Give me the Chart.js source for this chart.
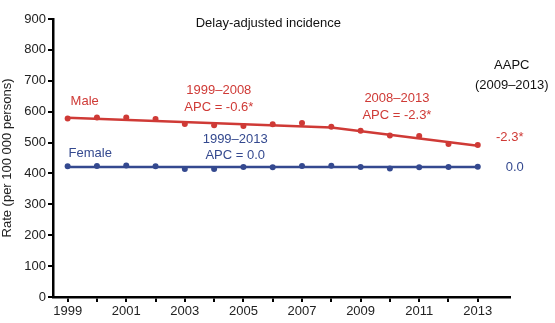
<!DOCTYPE html>
<html>
<head>
<meta charset="utf-8">
<script src="https://cdn.jsdelivr.net/npm/chart.js@4"></script>
<style>
  html, body { margin: 0; padding: 0; background: #fff; }
  #wrap { width: 555px; height: 323px; }
</style>
</head>
<body>
<div id="wrap"><canvas id="rateChart" width="555" height="323"></canvas></div>
<script>
// observed rates per 100 000 persons
const years = [1999, 2000, 2001, 2002, 2003, 2004, 2005, 2006, 2007, 2008, 2009, 2010, 2011, 2012, 2013];
const maleRates = [578, 581, 581, 576, 560, 556, 554, 559, 563, 551, 538, 523, 521, 495, 492];
const femaleRates = [423, 424, 426, 423, 414, 414, 421, 420, 424, 425, 421, 416, 420, 421, 422];

// joinpoint fits: year -> fitted rate
const maleFitYears = [1999, 2008, 2013];
const maleFitRates = [580, 549, 490];
const femaleFitYears = [1999, 2013];
const femaleFitRates = [421, 421];

const RED = '#cf3a36';
const BLUE = '#34498f';
const FONT = "'Liberation Sans', Arial, sans-serif";

const toPoints = (xs, ys) => xs.map((x, i) => ({ x: x, y: ys[i] }));

// text labels placed in data units (first line centre), gap = line spacing in px
const notes = [
  { x: 2005.85, y: 887, lines: ['Delay-adjusted incidence'], color: '#111', align: 'center', gap: 17 },
  { x: 1999.1, y: 634, lines: ['Male'], color: RED, align: 'left', gap: 17 },
  { x: 1999.03, y: 466, lines: ['Female'], color: BLUE, align: 'left', gap: 17 },
  { x: 2004.16, y: 670, lines: ['1999–2008', 'APC = -0.6*'], color: RED, align: 'center', gap: 17 },
  { x: 2010.24, y: 644, lines: ['2008–2013', 'APC = -2.3*'], color: RED, align: 'center', gap: 17 },
  { x: 2004.72, y: 511, lines: ['1999–2013', 'APC = 0.0'], color: BLUE, align: 'center', gap: 16 },
  { x: 2014.16, y: 751, lines: ['AAPC', '(2009–2013)'], color: '#111', align: 'center', gap: 20 },
  { x: 2014.09, y: 518, lines: ['-2.3*'], color: RED, align: 'center', gap: 17 },
  { x: 2014.26, y: 421, lines: ['0.0'], color: BLUE, align: 'center', gap: 17 }
];

const notesPlugin = {
  id: 'notes',
  afterDatasetsDraw(chart) {
    const { ctx, scales: { x, y } } = chart;
    ctx.save();
    ctx.font = '13px ' + FONT;
    ctx.textBaseline = 'middle';
    notes.forEach(n => {
      ctx.fillStyle = n.color;
      ctx.textAlign = n.align;
      const px = x.getPixelForValue(n.x);
      const py = y.getPixelForValue(n.y);
      n.lines.forEach((t, i) => ctx.fillText(t, px, py + i * n.gap));
    });
    ctx.restore();
  }
};

new Chart(document.getElementById('rateChart'), {
  type: 'line',
  data: {
    datasets: [
      {
        label: 'Male fit',
        data: toPoints(maleFitYears, maleFitRates),
        borderColor: RED,
        borderWidth: 2.5,
        pointRadius: 0,
        tension: 0
      },
      {
        label: 'Male',
        data: toPoints(years, maleRates),
        showLine: false,
        pointRadius: 3,
        pointBackgroundColor: RED,
        pointBorderWidth: 0
      },
      {
        label: 'Female fit',
        data: toPoints(femaleFitYears, femaleFitRates),
        borderColor: BLUE,
        borderWidth: 2.5,
        pointRadius: 0,
        tension: 0
      },
      {
        label: 'Female',
        data: toPoints(years, femaleRates),
        showLine: false,
        pointRadius: 3,
        pointBackgroundColor: BLUE,
        pointBorderWidth: 0
      }
    ]
  },
  options: {
    responsive: false,
    animation: false,
    layout: { padding: { top: 19, right: 45, left: 0, bottom: 0 } },
    plugins: {
      legend: { display: false },
      tooltip: { enabled: false }
    },
    scales: {
      x: {
        type: 'linear',
        min: 1998.5,
        max: 2014.1,
        afterBuildTicks(axis) {
          axis.ticks = years.map(v => ({ value: v }));
        },
        afterFit(axis) { axis.height = 26; },
        ticks: {
          autoSkip: false,
          maxRotation: 0,
          padding: 2,
          color: '#222',
          font: { family: FONT, size: 13 },
          callback: v => (v % 2 === 1 ? String(v) : '')
        },
        grid: { drawOnChartArea: false, drawTicks: true, tickLength: 5, color: '#000', lineWidth: 2 },
        border: { color: '#000', width: 2.5 }
      },
      y: {
        min: 0,
        max: 900,
        afterFit(axis) { axis.width = 53; },
        ticks: {
          stepSize: 100,
          padding: 2,
          color: '#222',
          font: { family: FONT, size: 13 }
        },
        title: {
          display: true,
          text: 'Rate (per 100 000 persons)',
          color: '#222',
          font: { family: FONT, size: 13 },
          padding: 0
        },
        grid: { drawOnChartArea: false, drawTicks: true, tickLength: 5, color: '#000', lineWidth: 2 },
        border: { color: '#000', width: 2.5 }
      }
    }
  },
  plugins: [notesPlugin]
});
</script>
</body>
</html>
